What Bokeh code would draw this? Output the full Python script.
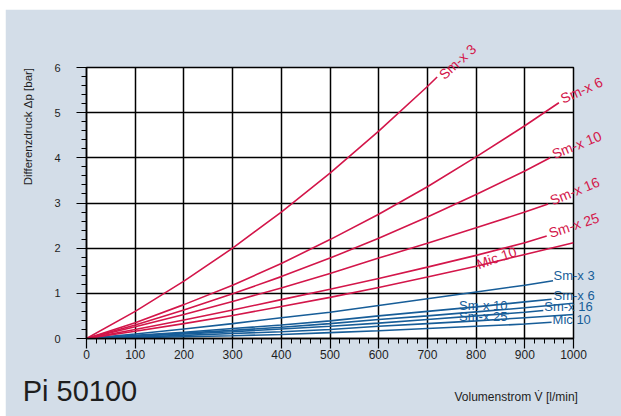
import math
from bokeh.plotting import figure
from bokeh.models import SingleIntervalTicker, ColumnDataSource
from bokeh.core.properties import value
from bokeh.embed import file_html
from bokeh.resources import INLINE

# ---- data ----
q_std = [0, 100, 200, 300, 400, 500, 600, 700, 800, 900]

red_sm3_x = [0, 100, 200, 300, 400, 500, 600, 700, 720]
red_sm3_y = [0, 0.60, 1.27, 2.00, 2.80, 3.66, 4.59, 5.58, 5.79]
red_sm6_x = q_std + [970]
red_sm6_y = [0, 0.35, 0.75, 1.18, 1.66, 2.19, 2.75, 3.36, 4.02, 4.71, 5.22]
red_sm10_x = q_std + [952]
red_sm10_y = [0, 0.30, 0.63, 0.99, 1.37, 1.78, 2.22, 2.69, 3.19, 3.71, 4.00]
red_sm16_x = q_std + [948]
red_sm16_y = [0, 0.26, 0.53, 0.82, 1.12, 1.44, 1.78, 2.11, 2.45, 2.80, 2.98]
red_sm25_x = q_std + [945]
red_sm25_y = [0, 0.20, 0.41, 0.63, 0.86, 1.09, 1.33, 1.58, 1.84, 2.12, 2.27]
red_mic10_x = q_std + [1000]
red_mic10_y = [0, 0.16, 0.33, 0.51, 0.71, 0.91, 1.13, 1.36, 1.60, 1.86, 2.12]

blue_sm3_x = q_std + [958]
blue_sm3_y = [0, 0.10, 0.21, 0.33, 0.46, 0.58, 0.73, 0.88, 1.03, 1.18, 1.28]
blue_sm6_x = q_std + [955]
blue_sm6_y = [0, 0.07, 0.14, 0.22, 0.30, 0.39, 0.50, 0.60, 0.70, 0.81, 0.87]
blue_sm10_x = q_std + [1000]
blue_sm10_y = [0, 0.06, 0.12, 0.18, 0.25, 0.33, 0.42, 0.50, 0.59, 0.68, 0.78]
blue_sm16_x = q_std + [938]
blue_sm16_y = [0, 0.05, 0.10, 0.15, 0.21, 0.27, 0.34, 0.42, 0.50, 0.58, 0.62]
blue_sm25_x = q_std + [1000]
blue_sm25_y = [0, 0.03, 0.07, 0.11, 0.15, 0.20, 0.27, 0.33, 0.39, 0.46, 0.53]
blue_mic10_x = q_std + [955]
blue_mic10_y = [0, 0.02, 0.04, 0.06, 0.09, 0.13, 0.17, 0.22, 0.27, 0.32, 0.36]

red_names = ["Sm-x 3", "Sm-x 6", "Sm-x 10", "Sm-x 16", "Sm-x 25", "Mic 10"]
blue_names = ["Sm-x 3", "Sm-x 6", "Sm-x 10", "Sm-x 16", "Sm-x 25", "Mic 10"]

# label placements (positions / styles, kept separate from data)
red_label_x = [728, 975, 957, 953, 950, 802]
red_label_y = [5.80, 5.30, 4.07, 3.05, 2.33, 1.64]
red_label_deg = [42, 24, 22, 22, 18, 19]
blue_label_x = [959, 959, 765, 940, 765, 957]
blue_label_y = [1.40, 0.95, 0.72, 0.70, 0.48, 0.43]

RED = "#d3164a"
BLUE = "#175d98"
BG = "#d3dde8"
FONT = "Liberation Sans"
TXT = "#1e1e1e"

p = figure(width=616, height=407, x_range=(0, 1000), y_range=(0, 6),
           output_backend="svg", toolbar_location=None,
           min_border_left=81, min_border_right=48,
           min_border_top=58, min_border_bottom=78)
p.margin = (9, 0, 0, 5)
p.title = None
p.background_fill_color = "white"
p.border_fill_color = BG
p.outline_line_color = "black"
p.outline_line_width = 1.5

xt = SingleIntervalTicker(interval=100, num_minor_ticks=5)
yt = SingleIntervalTicker(interval=1, num_minor_ticks=5)
p.xaxis.ticker = xt
p.yaxis.ticker = yt
p.xgrid.ticker = xt
p.ygrid.ticker = yt
for g in (p.xgrid, p.ygrid):
    g.grid_line_color = "black"
    g.grid_line_width = 1.5
    g.grid_line_alpha = 1.0

for ax in (p.xaxis, p.yaxis):
    ax.axis_line_color = "black"
    ax.axis_line_width = 1.5
    ax.major_tick_line_color = "black"
    ax.major_tick_line_width = 1.2
    ax.minor_tick_line_color = "black"
    ax.minor_tick_line_width = 1.0
    ax.major_tick_in = 0
    ax.major_tick_out = 10
    ax.minor_tick_in = 0
    ax.minor_tick_out = 5
    ax.major_label_text_font = FONT
    ax.major_label_text_color = TXT

p.xaxis.major_label_text_font_size = "12px"
p.xaxis.major_label_standoff = 1
p.yaxis.major_label_text_font_size = "11px"
p.yaxis.major_label_standoff = 16

red_series = [(red_sm3_x, red_sm3_y), (red_sm6_x, red_sm6_y), (red_sm10_x, red_sm10_y),
              (red_sm16_x, red_sm16_y), (red_sm25_x, red_sm25_y), (red_mic10_x, red_mic10_y)]
blue_series = [(blue_sm3_x, blue_sm3_y), (blue_sm6_x, blue_sm6_y), (blue_sm10_x, blue_sm10_y),
               (blue_sm16_x, blue_sm16_y), (blue_sm25_x, blue_sm25_y), (blue_mic10_x, blue_mic10_y)]

for xs, ys in blue_series:
    p.line(xs, ys, line_color=BLUE, line_width=1.6)
for xs, ys in red_series:
    p.line(xs, ys, line_color=RED, line_width=1.6)

red_src = ColumnDataSource(dict(x=red_label_x, y=red_label_y, text=red_names,
                                angle=[math.radians(a) for a in red_label_deg]))
p.text(x="x", y="y", text="text", angle="angle", source=red_src,
       text_align="left", text_baseline="middle", text_font=value(FONT),
       text_font_size=value("14px"), text_color=RED, level="overlay")

blue_src = ColumnDataSource(dict(x=blue_label_x, y=blue_label_y, text=blue_names))
p.text(x="x", y="y", text="text", source=blue_src,
       text_align="left", text_baseline="middle", text_font=value(FONT),
       text_font_size=value("13px"), text_color=BLUE, level="overlay")

# axis titles and chart name (drawn unclipped, outside the frame)
p.text(x=[-120], y=[5.99], text=["Differenzdruck \u0394p [bar]"], angle=[math.pi / 2],
       text_align="right", text_baseline="middle", text_font=value(FONT),
       text_font_size=value("11.5px"), text_color=TXT, level="overlay")
p.text(x=[1009], y=[-1.30], text=["Volumenstrom V\u0307 [l/min]"],
       text_align="right", text_baseline="middle", text_font=value(FONT),
       text_font_size=value("12px"), text_color=TXT, level="overlay")
p.text(x=[-131], y=[-1.17], text=["Pi 50100"],
       text_align="left", text_baseline="middle", text_font=value(FONT),
       text_font_size=value("29px"), text_color=TXT, level="overlay")

open("out.html", "w").write(file_html(p, INLINE))
